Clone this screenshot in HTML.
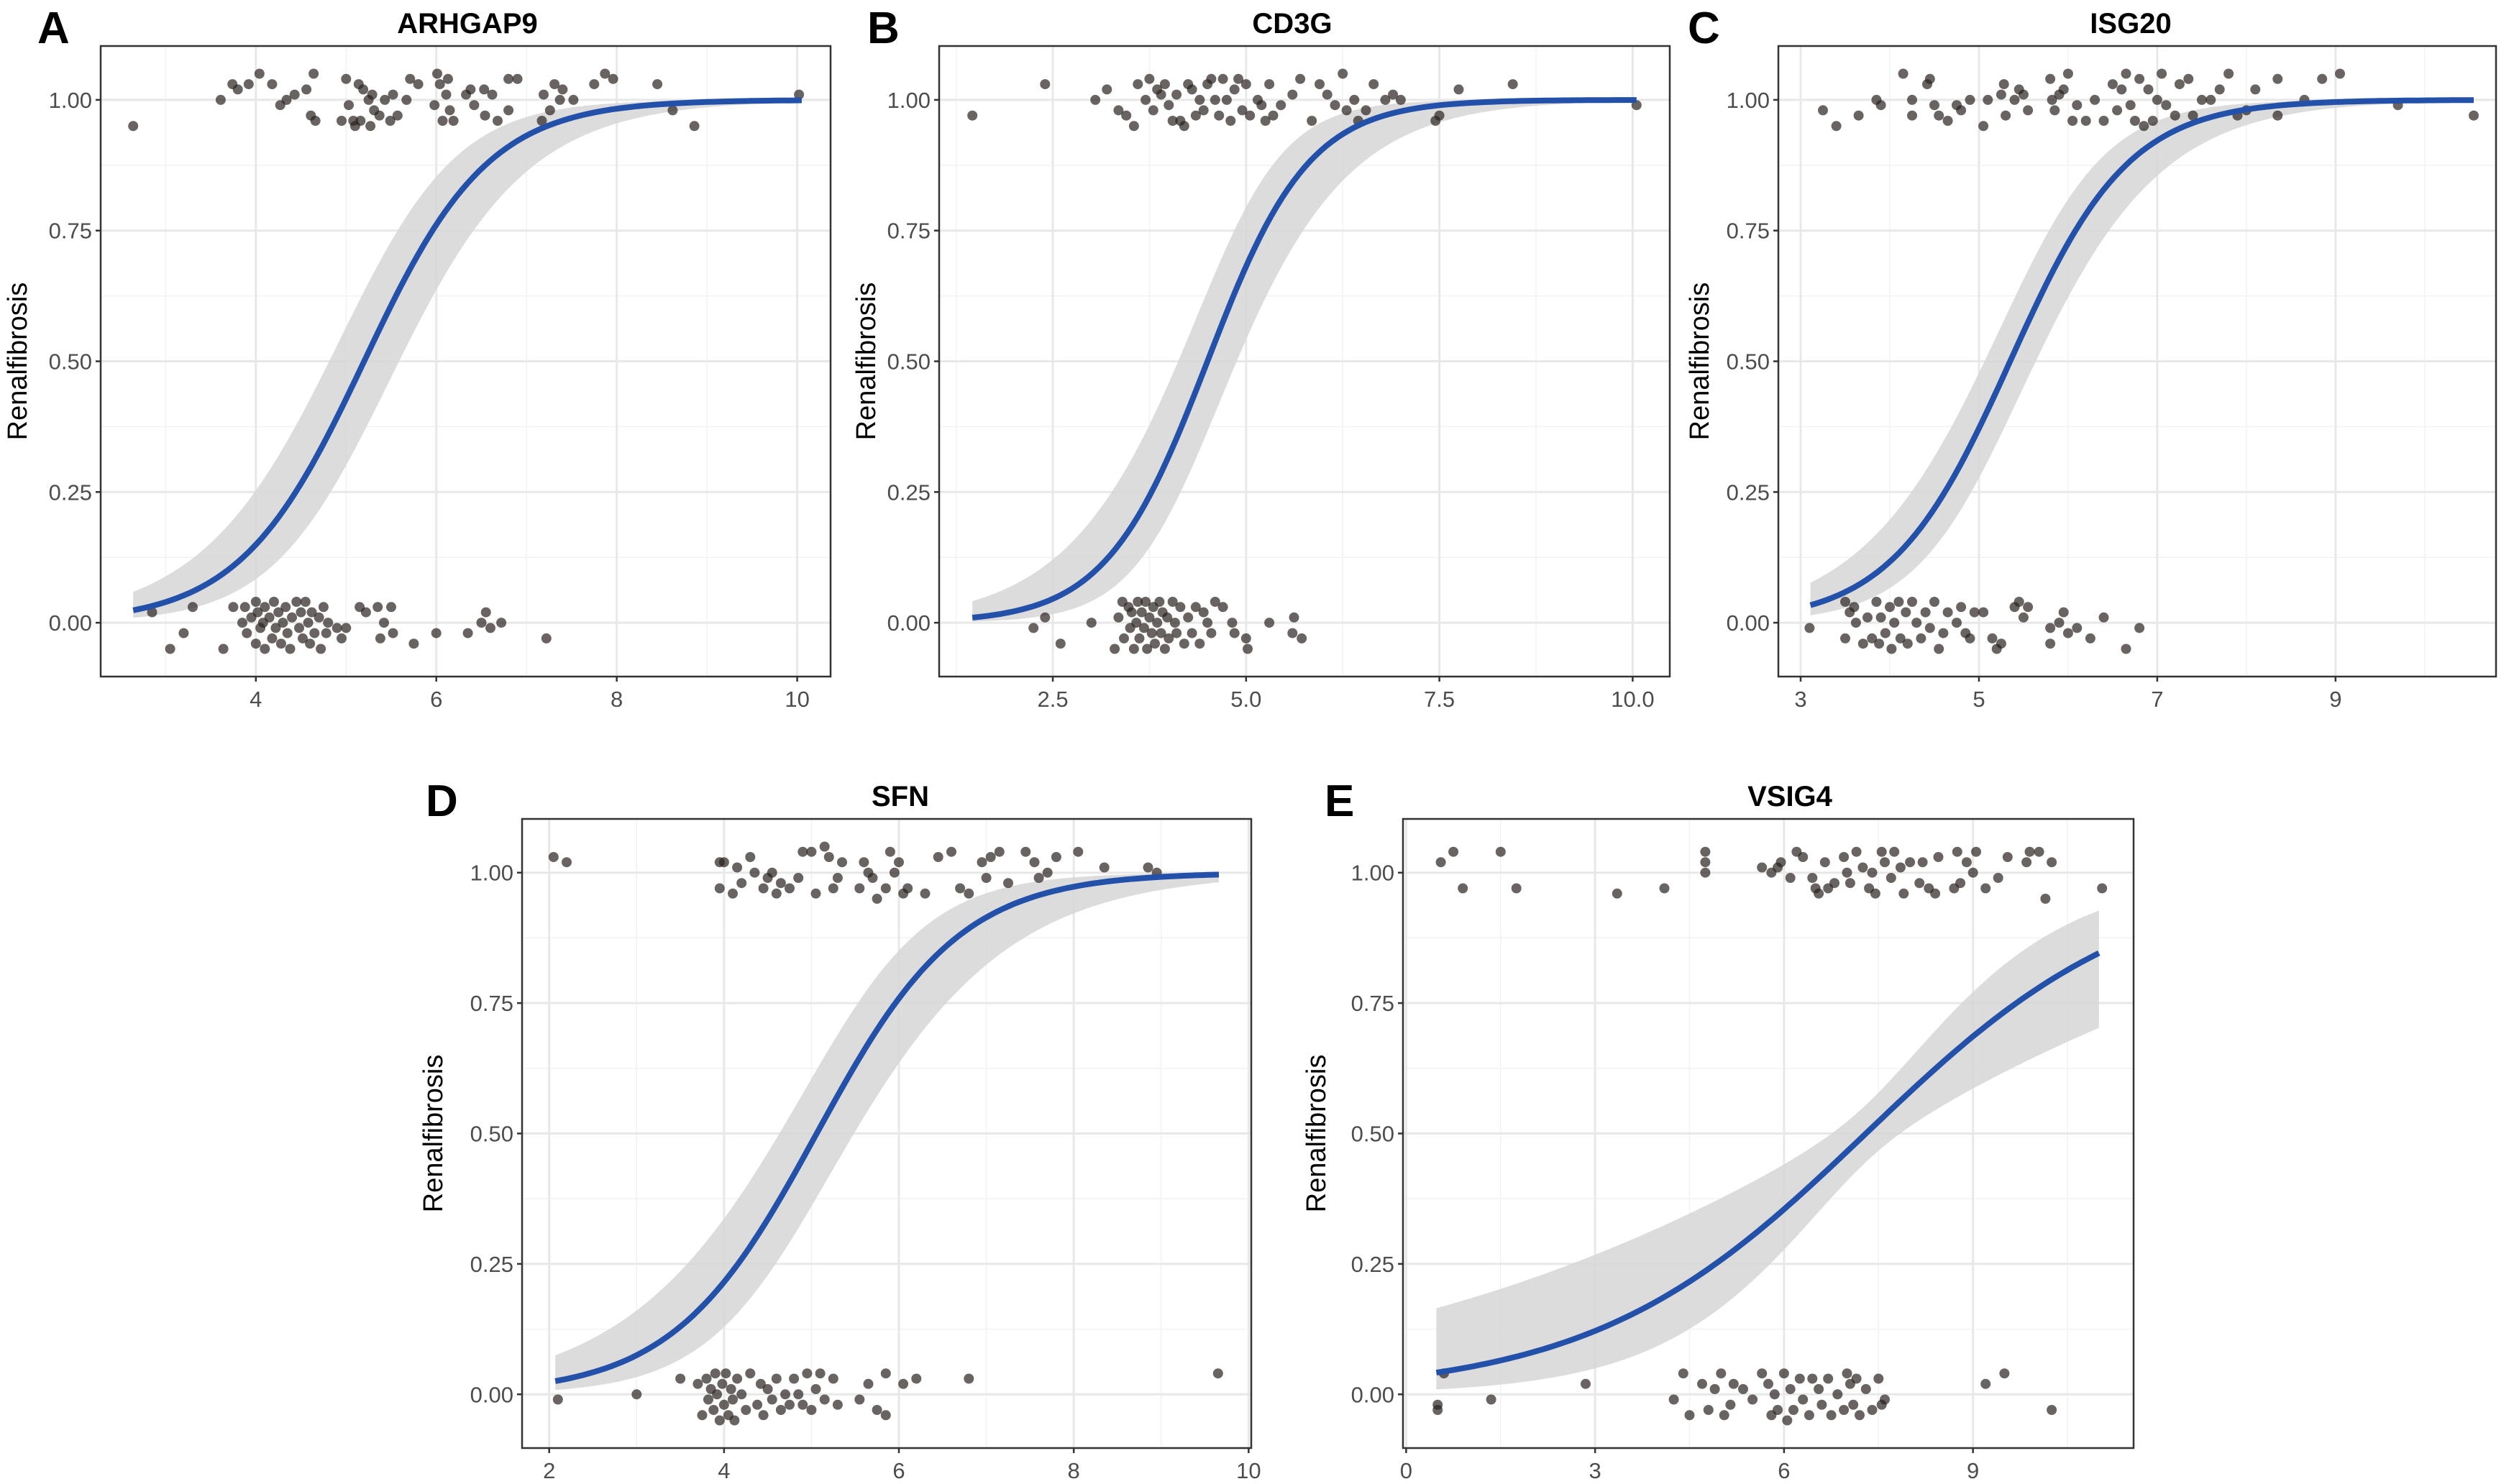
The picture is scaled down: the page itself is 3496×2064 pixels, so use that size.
<!DOCTYPE html>
<html><head><meta charset="utf-8">
<style>
html,body{margin:0;padding:0;background:#fff;}
svg{display:block;}
text{font-family:"Liberation Sans",Arial,sans-serif;}
</style></head>
<body>
<svg id="fig" width="3496" height="2064" viewBox="0 0 3496 2064" xmlns="http://www.w3.org/2000/svg"></svg>
<script>
// ---- Panel data ----
const panelTitles = ["ARHGAP9","CD3G","ISG20","SFN","VSIG4"];
const panelLetters = ["A","B","C","D","E"];
const xTicksA = [4,6,8,10];
const xTicksB = [2.5,5.0,7.5,10.0];
const xTicksC = [3,5,7,9];
const xTicksD = [2,4,6,8,10];
const xTicksE = [0,3,6,9];
const xTickLabelsB = ["2.5","5.0","7.5","10.0"];
const yTicks = [0,0.25,0.5,0.75,1];
const yTickLabels = ["0.00","0.25","0.50","0.75","1.00"];
const xDomains = [[2.28,10.37],[1.03,10.48],[2.75,10.80],[1.69,10.03],[-0.05,11.55]];
const yDomain = [-0.103,1.103];
// logistic fit parameters (midpoint, slope, band half-width at mid, band growth, x extent)
const fitMid = [5.2,4.5,5.35,5.06,7.3];
const fitSlope = [1.45,1.52,1.5,1.22,0.46];
const bandHalf = [0.55,0.55,0.42,0.5,0.22];
const bandGrow = [0.3,0.45,0.34,0.34,0.22];
const fitXmin = [2.64,1.46,3.11,2.07,0.48];
const fitXmax = [10.05,10.05,10.55,9.66,11.0];

const ptsTopA=[2.64,.95,3.61,1.0,3.74,1.03,3.8,1.02,3.92,1.03,4.04,1.05,4.18,1.03,4.27,.99,4.34,1.0,4.43,1.01,4.56,1.02,4.61,.97,4.64,1.05,4.66,.96,4.95,.96,5.0,1.04,5.03,.99,5.08,.96,5.1,.95,5.14,1.03,5.16,.96,5.19,1.02,5.25,1.0,5.27,.95,5.29,1.01,5.31,.98,5.37,.97,5.43,1.0,5.49,.96,5.52,1.01,5.57,.97,5.67,1.0,5.71,1.04,5.8,1.03,5.98,.99,6.01,1.05,6.04,1.03,6.07,.96,6.11,1.01,6.13,1.04,6.15,.98,6.19,.96,6.33,1.01,6.38,1.02,6.42,.99,6.53,1.02,6.54,.97,6.62,1.01,6.68,.96,6.8,.98,6.8,1.04,6.9,1.04,7.17,.96,7.19,1.01,7.26,.98,7.31,1.03,7.37,1.0,7.4,1.02,7.52,1.0,7.75,1.03,7.87,1.05,7.96,1.04,8.45,1.03,8.62,.98,8.86,.95,10.02,1.01];
const ptsBotA=[2.85,.02,3.05,-.05,3.2,-.02,3.3,.03,3.64,-.05,3.75,.03,3.85,0,3.88,.03,3.9,-.02,3.95,.01,4.0,-.04,4.0,.04,4.02,.02,4.05,-.01,4.08,0,4.1,.03,4.1,-.05,4.15,.01,4.18,-.03,4.2,.04,4.22,-.01,4.25,.02,4.28,-.04,4.3,0,4.33,.03,4.35,-.02,4.38,-.05,4.4,.01,4.45,.04,4.48,-.01,4.5,.02,4.52,-.03,4.55,.04,4.58,0,4.6,-.04,4.62,.02,4.65,-.02,4.7,.01,4.72,-.05,4.75,.03,4.78,-.02,4.8,0,4.9,-.01,4.95,-.03,5.0,-.01,5.15,.03,5.22,.02,5.35,.03,5.38,-.03,5.42,0,5.5,.03,5.52,-.02,5.75,-.04,6.0,-.02,6.35,-.02,6.5,0,6.55,.02,6.6,-.01,6.72,0,7.22,-.03];
const ptsTopB=[1.46,.97,2.4,1.03,3.05,1.0,3.2,1.02,3.35,.98,3.45,.97,3.55,.95,3.6,1.03,3.7,1.0,3.75,1.04,3.8,.98,3.85,1.02,3.9,1.01,3.95,1.03,4.0,.99,4.05,.96,4.1,1.01,4.15,.96,4.2,.95,4.25,1.03,4.3,1.02,4.35,.97,4.4,1.0,4.45,.98,4.5,1.03,4.55,1.04,4.6,1.0,4.65,.97,4.7,1.04,4.75,1.0,4.8,.96,4.85,1.02,4.9,1.04,4.95,.98,5.0,1.03,5.05,.97,5.15,1.0,5.2,.99,5.25,.96,5.3,1.03,5.35,.97,5.45,.99,5.6,1.01,5.7,1.04,5.85,.96,5.95,1.03,6.05,1.01,6.15,.99,6.25,1.05,6.3,.98,6.4,1.0,6.45,.96,6.55,.98,6.65,1.03,6.8,1.0,6.9,1.01,7.0,1.0,7.45,.96,7.5,.97,7.75,1.02,8.45,1.03,10.05,.99];
const ptsBotB=[2.25,-.01,2.4,.01,2.6,-.04,3.0,0,3.3,-.05,3.35,.01,3.4,.04,3.42,-.03,3.48,.03,3.5,-.01,3.52,.02,3.55,-.05,3.58,0,3.6,.04,3.62,-.03,3.65,.02,3.68,-.01,3.7,.04,3.72,-.05,3.75,.01,3.78,-.02,3.8,.03,3.82,-.04,3.85,0,3.88,.04,3.9,-.02,3.92,.02,3.95,-.05,3.98,.01,4.0,-.03,4.05,.04,4.08,0,4.1,-.02,4.15,.03,4.2,-.04,4.25,.01,4.3,-.02,4.35,.03,4.4,-.04,4.45,.02,4.5,0,4.55,-.02,4.6,.04,4.7,.03,4.82,0,4.85,-.02,5.0,-.03,5.02,-.05,5.3,0,5.6,-.02,5.62,.01,5.72,-.03];
const ptsTopC=[3.25,.98,3.4,.95,3.65,.97,3.85,1.0,3.9,.99,4.15,1.05,4.25,1.0,4.25,.97,4.42,1.03,4.45,1.04,4.5,.99,4.55,.97,4.65,.96,4.75,.99,4.8,.98,4.9,1.0,5.05,.95,5.1,1.0,5.25,1.01,5.28,1.03,5.3,.97,5.4,1.0,5.45,1.02,5.5,1.01,5.55,.98,5.8,1.04,5.82,1.0,5.85,.98,5.9,1.01,5.95,1.02,6.0,1.05,6.05,.96,6.1,.99,6.2,.96,6.3,1.0,6.4,.96,6.5,1.03,6.55,.98,6.6,1.02,6.65,1.05,6.7,.99,6.75,.96,6.8,1.04,6.85,.95,6.9,1.02,6.95,.96,7.0,1.0,7.05,1.05,7.1,.99,7.2,.97,7.25,1.03,7.35,1.04,7.4,.97,7.5,1.0,7.6,1.0,7.7,1.02,7.8,1.05,7.9,.97,8.0,.98,8.1,1.02,8.35,.97,8.35,1.04,8.65,1.0,8.85,1.04,9.05,1.05,9.7,.99,10.55,.97];
const ptsBotC=[3.1,-.01,3.5,.04,3.5,-.03,3.55,.02,3.6,.03,3.62,0,3.7,-.04,3.75,.01,3.8,-.03,3.85,.04,3.88,-.04,3.9,.01,3.95,-.02,4.0,.03,4.02,-.05,4.05,0,4.1,.04,4.12,-.03,4.18,.02,4.2,-.04,4.25,.04,4.3,0,4.35,-.03,4.4,.02,4.45,-.01,4.5,.04,4.55,-.05,4.6,-.02,4.65,.02,4.75,0,4.8,.03,4.85,-.02,4.9,-.03,4.95,.02,5.05,.02,5.15,-.03,5.2,-.05,5.25,-.04,5.4,.03,5.45,.04,5.5,.01,5.55,.03,5.8,-.01,5.8,-.04,5.9,0,5.95,.02,6.0,-.02,6.1,-.01,6.25,-.03,6.4,.01,6.65,-.05,6.8,-.01];
const ptsTopD=[2.05,1.03,2.2,1.02,3.95,1.02,3.95,.97,4.0,1.02,4.1,.96,4.15,1.01,4.2,.98,4.3,1.03,4.35,1.0,4.45,.97,4.5,.99,4.55,1.0,4.6,.96,4.65,.98,4.75,.97,4.85,.99,4.9,1.04,5.0,1.04,5.05,.96,5.15,1.05,5.2,1.03,5.25,.97,5.3,.99,5.35,1.02,5.55,.97,5.6,1.02,5.65,1.0,5.7,.99,5.75,.95,5.85,.97,5.9,1.04,5.95,1.0,6.0,1.02,6.05,.96,6.1,.97,6.3,.96,6.45,1.03,6.6,1.04,6.7,.97,6.8,.96,6.95,1.02,7.0,.99,7.05,1.03,7.15,1.04,7.25,.98,7.45,1.04,7.55,1.02,7.6,.99,7.7,1.0,7.8,1.03,8.05,1.04,8.35,1.01,8.85,1.01,8.95,1.0];
const ptsBotD=[2.1,-.01,3.0,0,3.5,.03,3.7,.02,3.75,-.04,3.8,.03,3.82,-.01,3.85,.01,3.88,-.03,3.9,.04,3.92,0,3.95,-.05,3.98,.02,4.0,-.02,4.02,.04,4.05,-.04,4.08,.01,4.1,-.01,4.12,-.05,4.15,.03,4.2,0,4.25,-.03,4.3,.04,4.38,-.02,4.42,.02,4.45,-.04,4.5,.01,4.55,-.01,4.6,.03,4.65,-.03,4.7,0,4.75,-.02,4.8,.03,4.85,0,4.9,-.02,4.95,.04,5.0,-.03,5.05,.01,5.1,.04,5.15,-.01,5.25,.03,5.3,-.02,5.55,-.01,5.65,.02,5.75,-.03,5.85,.04,5.85,-.04,6.05,.02,6.2,.03,6.8,.03,9.65,.04];
const ptsTopE=[0.55,1.02,0.75,1.04,0.9,.97,1.5,1.04,1.75,.97,3.35,.96,4.1,.97,4.75,1.04,4.75,1.02,4.75,1.0,5.65,1.01,5.8,1.0,5.9,1.01,5.95,1.02,6.1,.99,6.2,1.04,6.3,1.03,6.45,.99,6.5,.97,6.55,.96,6.65,1.02,6.7,.97,6.8,.98,6.95,1.03,7.0,1.0,7.05,.98,7.15,1.04,7.25,1.01,7.35,.97,7.4,1.0,7.45,.96,7.55,1.04,7.6,1.02,7.7,.99,7.75,1.04,7.85,1.01,7.9,.96,8.0,1.02,8.15,.98,8.2,1.02,8.3,.97,8.4,.96,8.45,1.03,8.7,.97,8.75,1.04,8.8,.98,8.9,1.02,9.0,1.0,9.05,1.04,9.2,.97,9.4,.99,9.55,1.03,9.85,1.02,9.9,1.04,10.05,1.04,10.15,.95,10.25,1.02,11.05,.97];
const ptsBotE=[0.5,-.02,0.5,-.03,0.6,.04,1.35,-.01,2.85,.02,4.25,-.01,4.4,.04,4.5,-.04,4.7,.02,4.8,-.03,4.9,.01,5.0,.04,5.05,-.04,5.15,-.02,5.2,.02,5.35,.01,5.5,-.01,5.65,.04,5.75,.02,5.8,-.04,5.85,0,5.9,-.03,6.0,.04,6.05,-.05,6.1,.01,6.15,-.03,6.25,.03,6.3,-.01,6.4,-.04,6.45,.03,6.55,.01,6.6,-.02,6.7,.03,6.75,-.04,6.85,0,6.95,-.03,7.0,.04,7.05,.02,7.1,-.02,7.15,.03,7.2,-.04,7.3,.01,7.4,-.03,7.5,.03,7.55,-.02,7.6,-.01,9.2,.02,9.5,.04,10.25,-.03];

// ---- layout (not data) ----
const boxes=[[140,64,1155,941],[1306,64,2322,941],[2473,64,3471,941],[726,1139,1740,2014],[1951,1139,2967,2014]];
const titleX=[650,1797,2963,1252,2489];
const letterX=[52,1206,2347,592,1842];
const ytitleX=[23,1203,2362,601,1829];
const xTickSets=[xTicksA,xTicksB,xTicksC,xTicksD,xTicksE];
const xTickLabelSets=[null,xTickLabelsB,null,null,null];
const ptsTop=[ptsTopA,ptsTopB,ptsTopC,ptsTopD,ptsTopE];
const ptsBot=[ptsBotA,ptsBotB,ptsBotC,ptsBotD,ptsBotE];

const NS="http://www.w3.org/2000/svg";
const svg=document.getElementById('fig');
function mk(tag,attrs,parent){const e=document.createElementNS(NS,tag);for(const k in attrs)e.setAttribute(k,attrs[k]);(parent||svg).appendChild(e);return e;}
const sig=t=>1/(1+Math.exp(-t));

for(let p=0;p<5;p++){
  const [L,T,R,B]=boxes[p];
  const [x0,x1]=xDomains[p];
  const X=v=>L+(v-x0)/(x1-x0)*(R-L);
  const Y=v=>B-(v-yDomain[0])/(yDomain[1]-yDomain[0])*(B-T);
  const g=mk('g',{});
  
  
  const ticks=xTickSets[p];
  const step=ticks[1]-ticks[0];
  const minors=[];
  for(let v=ticks[0]-step/2;v<=x1;v+=step){if(v>=x0)minors.push(v);}
  minors.forEach(v=>{const l=mk('line',{x1:X(v),x2:X(v),y1:T,y2:B,stroke:'#f2f2f2','stroke-width':1.5},g);});
  [0.125,0.375,0.625,0.875].forEach(v=>{const l=mk('line',{x1:L,x2:R,y1:Y(v),y2:Y(v),stroke:'#f2f2f2','stroke-width':1.5},g);});
  ticks.forEach(v=>{const l=mk('line',{x1:X(v),x2:X(v),y1:T,y2:B,stroke:'#e8e8e8','stroke-width':3},g);});
  yTicks.forEach(v=>{const l=mk('line',{x1:L,x2:R,y1:Y(v),y2:Y(v),stroke:'#e8e8e8','stroke-width':3},g);});
  const N=120, xs=[];
  for(let i=0;i<=N;i++)xs.push(fitXmin[p]+(fitXmax[p]-fitXmin[p])*i/N);
  const lin=x=>fitSlope[p]*(x-fitMid[p]);
  const hw=x=>Math.sqrt(bandHalf[p]*bandHalf[p]+Math.pow(bandGrow[p]*(x-fitMid[p]),2));
  let d='M'+xs.map(x=>X(x).toFixed(1)+','+Y(sig(lin(x)+hw(x))).toFixed(1)).join('L');
  d+='L'+xs.slice().reverse().map(x=>X(x).toFixed(1)+','+Y(sig(lin(x)-hw(x))).toFixed(1)).join('L')+'Z';
  const band=mk('path',{d:d,fill:'#d6d6d6','fill-opacity':0.85},g);
  
  
  [ptsTop[p],ptsBot[p]].forEach((arr,gi)=>{
    for(let i=0;i<arr.length;i+=2){
      const c=mk('circle',{cx:X(arr[i]).toFixed(1),cy:Y(arr[i+1]).toFixed(1),r:7,fill:'#2a2220','fill-opacity':0.7},g);
      
      
    }
  });
  const fit=mk('path',{d:'M'+xs.map(x=>X(x).toFixed(1)+','+Y(sig(lin(x))).toFixed(1)).join('L'),fill:'none',stroke:'#2350a8','stroke-width':8,'stroke-linecap':'butt'},g);
  
  
  const bd=mk('rect',{x:L,y:T,width:R-L,height:B-T,fill:'none',stroke:'#333','stroke-width':2.5},g);
  
  
  yTicks.forEach((v,i)=>{
    mk('line',{x1:L-7,x2:L,y1:Y(v),y2:Y(v),stroke:'#333','stroke-width':2.5},g);
    const t=mk('text',{x:L-12,y:Y(v)+11,'text-anchor':'end','font-size':31,fill:'#4d4d4d'},g);
    t.textContent=yTickLabels[i];
    
    
  });
  ticks.forEach((v,i)=>{
    mk('line',{x1:X(v),x2:X(v),y1:B,y2:B+7,stroke:'#333','stroke-width':2.5},g);
    const t=mk('text',{x:X(v),y:B+42,'text-anchor':'middle','font-size':31,fill:'#4d4d4d'},g);
    t.textContent=xTickLabelSets[p]?xTickLabelSets[p][i]:String(v);
    
    
  });
  const yt=mk('text',{x:0,y:0,'text-anchor':'middle','font-size':38,fill:'#000',transform:'translate('+(ytitleX[p]+14)+','+((T+B)/2)+') rotate(-90)'},g);
  yt.textContent='Renalfibrosis';
  
  
  const tt=mk('text',{x:titleX[p],y:T-18,'text-anchor':'middle','font-size':40,'font-weight':'bold',fill:'#000'},g);
  tt.textContent=panelTitles[p];
  
  
  const lt=mk('text',{x:letterX[p],y:T-4,'font-size':62,'font-weight':'bold',fill:'#000'},g);
  lt.textContent=panelLetters[p];
  
  
}
</script>
</body></html>
